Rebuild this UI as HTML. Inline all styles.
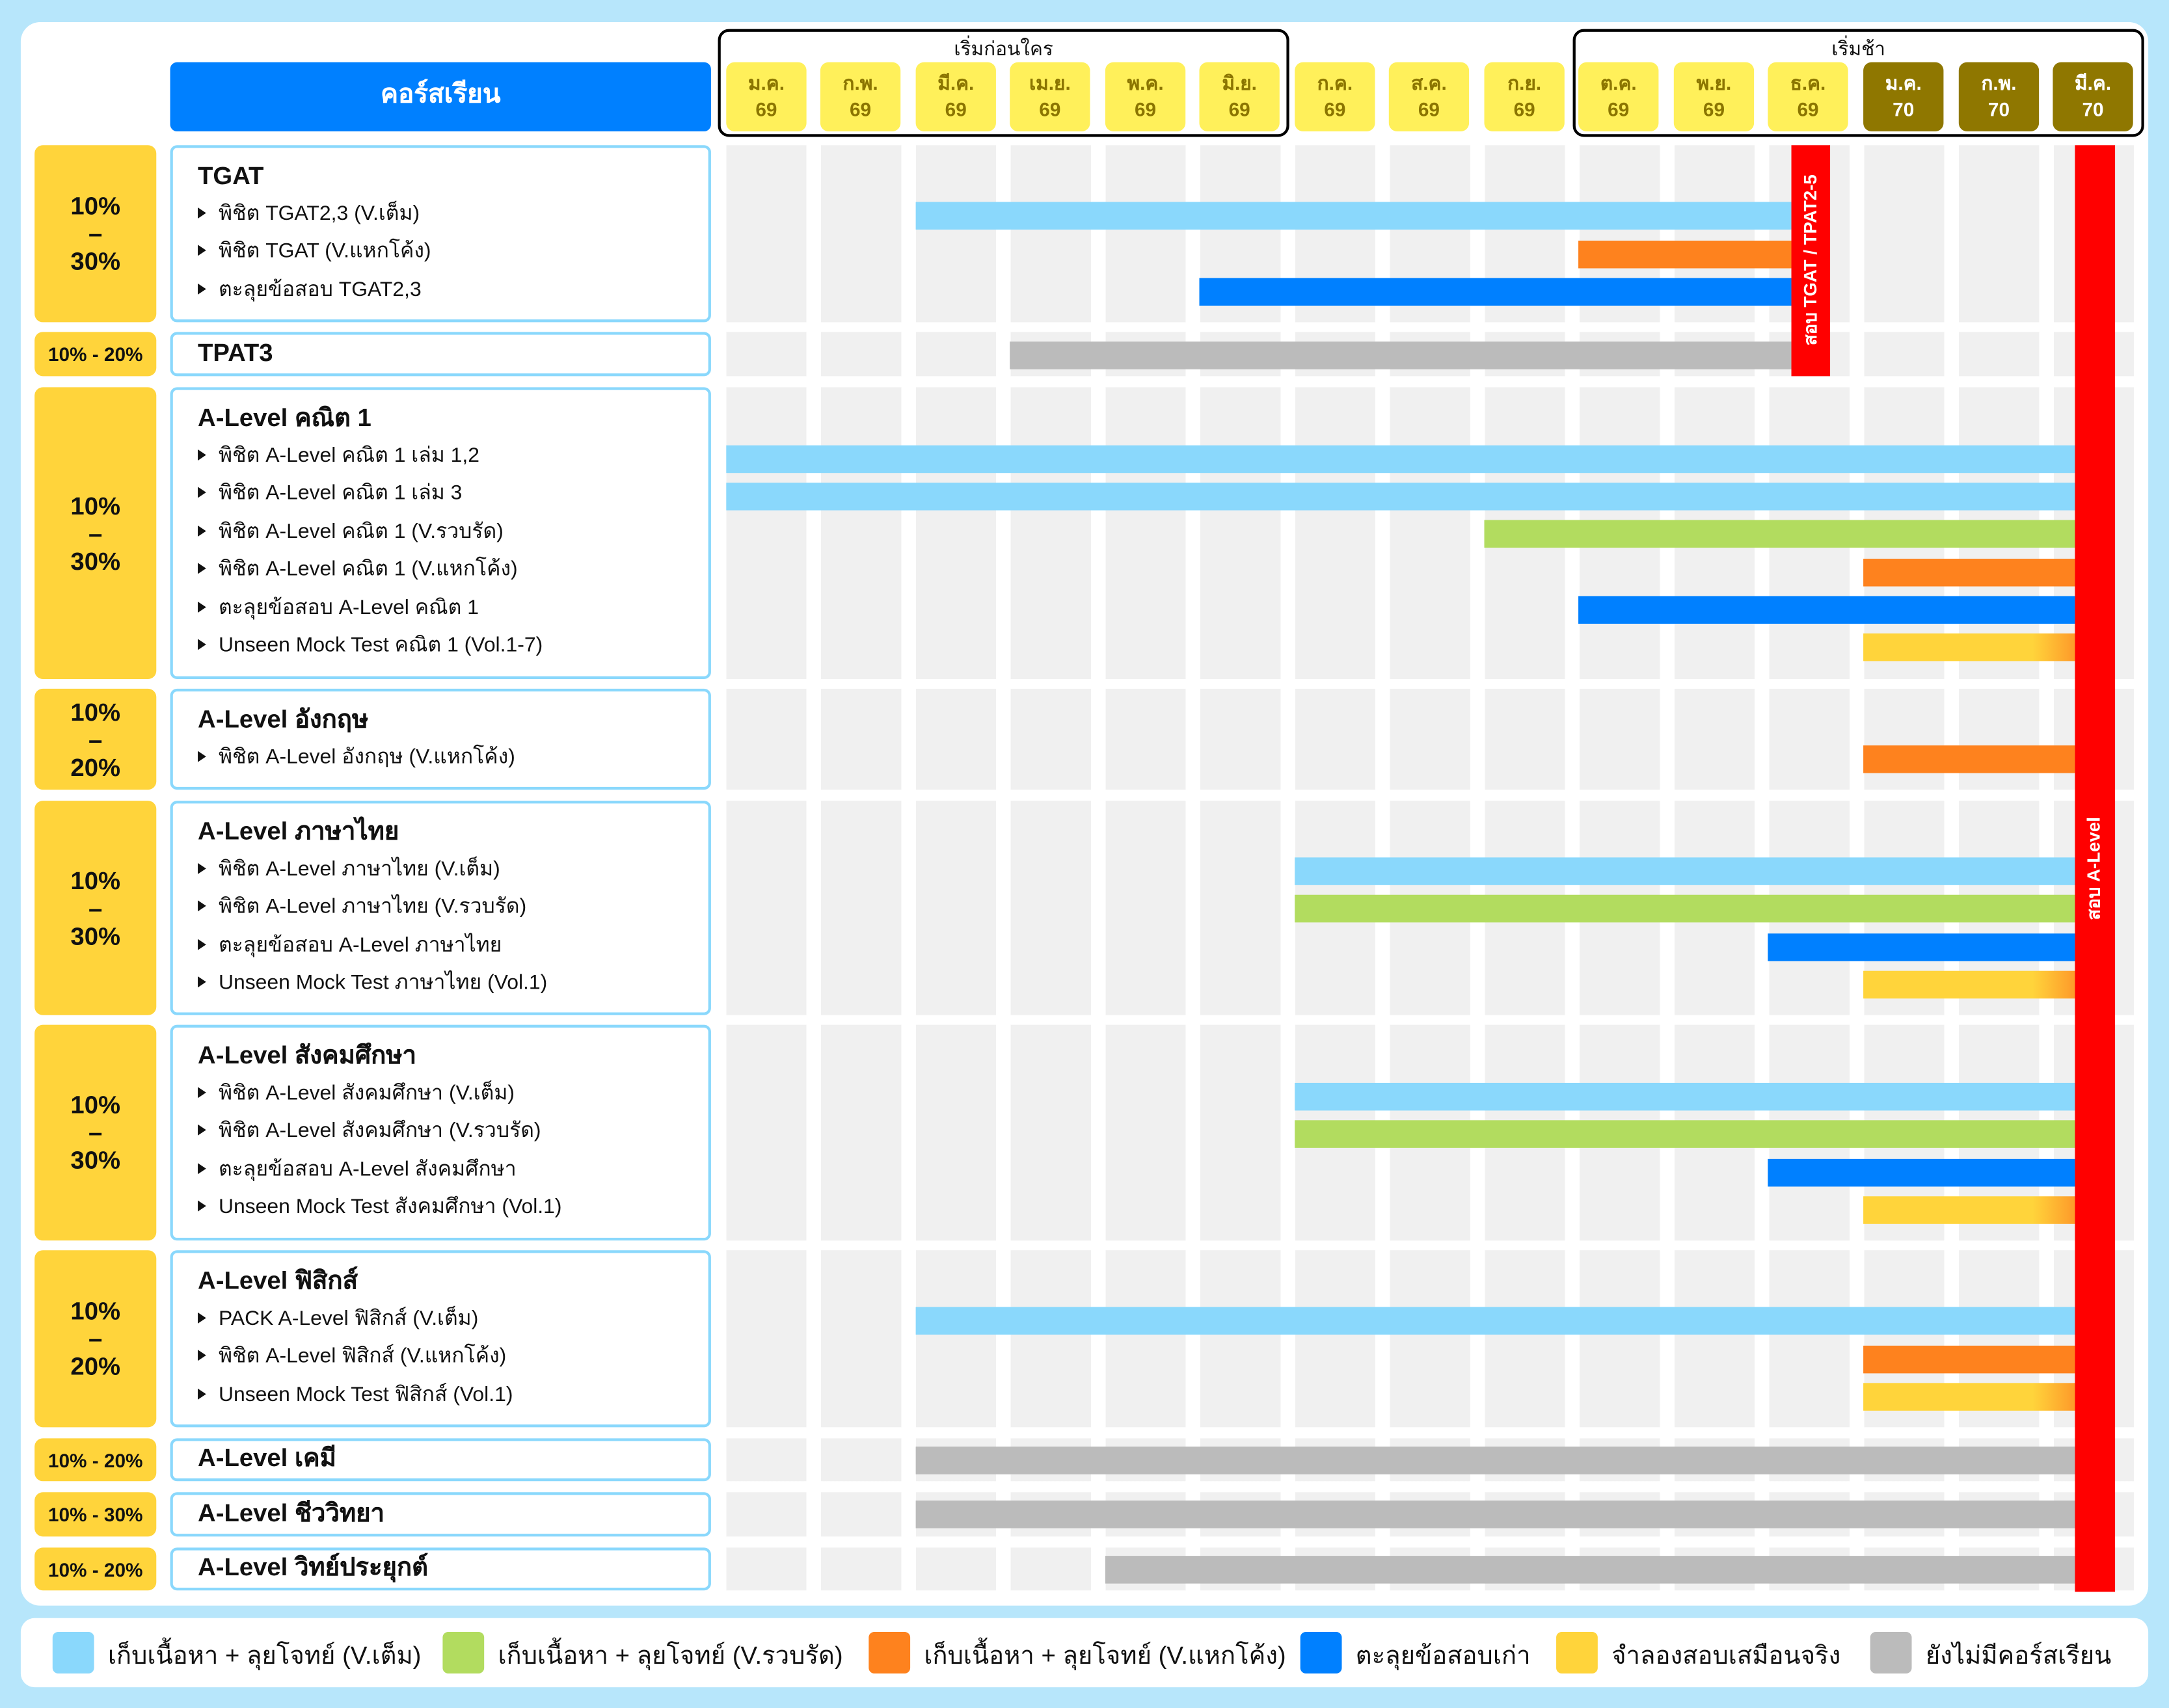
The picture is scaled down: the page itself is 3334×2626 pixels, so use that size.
<!DOCTYPE html>
<html><head><meta charset="utf-8"><style>
html,body{margin:0;padding:0;background:#b7e6fb;overflow:hidden}
#w{position:absolute;left:0;top:0;width:1568px;height:1235px;transform-origin:0 0;transform:scale(2.12628,2.12632);font-family:"Liberation Sans","Noto Sans CJK SC","WenQuanYi Zen Hei",sans-serif;color:#111}
.a{position:absolute}
.pn{background:#fff;border-radius:14px}
.hm{position:absolute;top:45px;width:58px;height:50px;border-radius:6px;background:#fff05a;color:#8b7500;font-weight:bold;font-size:14px;text-align:center;line-height:19px;padding-top:6px;box-sizing:border-box}
.hm.d{background:#8f7700;color:#fff}
.grp{position:absolute;top:21px;height:78px;border:2px solid #000;border-radius:8px;box-sizing:border-box;text-align:center;font-size:14px;line-height:24px}
.pc{position:absolute;left:25px;width:88px;background:#ffd43b;border-radius:6px;font-weight:bold;display:flex;align-items:center;justify-content:center;text-align:center}
.cb{position:absolute;left:123px;width:391px;border:2px solid #8ad8fc;border-radius:5px;box-sizing:border-box;background:#fff}
.cb .t{position:absolute;left:18px;font-weight:bold;font-size:18px;line-height:22px}
.cb .i{position:absolute;left:18px;font-size:15px;white-space:nowrap;line-height:18px}
.cb .i:before{content:"";display:inline-block;border-left:6px solid #111;border-top:4px solid transparent;border-bottom:4px solid transparent;margin-right:9px;vertical-align:1px}
.cb.s{display:flex;align-items:center}
.cb.s .t{position:static;margin-left:18px;margin-top:-3px}
.g{position:absolute;left:525px;width:1020px;background:repeating-linear-gradient(to right,#f0f0f0 0 58px,transparent 58px 68.55px)}
.b{position:absolute;height:20px}
.lb{background:#8ad8fc}.gr{background:#b2dc5f}.or{background:#fe821e}.bl{background:#0080ff}.ye{background:linear-gradient(to right,#ffd43b 80%,#fe9a2a)}.gy{background:#bbbbbb}
.lg{position:absolute;top:1180px;width:30px;height:30px;border-radius:4px}
.lt{position:absolute;top:1182px;font-size:18px;white-space:nowrap}
</style></head><body><div id="w">
<div class="a pn" style="left:15px;top:16px;width:1538px;height:1145px"></div>
<div class="a pn" style="left:15px;top:1170px;width:1538px;height:50px;border-radius:10px"></div>

<div class="a" style="left:123px;top:45px;width:391px;height:50px;background:#0080ff;border-radius:5px;color:#fff;font-weight:bold;font-size:19px;text-align:center;line-height:48px">คอร์สเรียน</div>
<div class="grp" style="left:519px;width:413px">เริ่มก่อนใคร</div>
<div class="grp" style="left:1137px;width:413px">เริ่มช้า</div>
<div class="hm" style="left:525px">ม.ค.<br>69</div>
<div class="hm" style="left:593px">ก.พ.<br>69</div>
<div class="hm" style="left:662px">มี.ค.<br>69</div>
<div class="hm" style="left:730px">เม.ย.<br>69</div>
<div class="hm" style="left:799px">พ.ค.<br>69</div>
<div class="hm" style="left:867px">มิ.ย.<br>69</div>
<div class="hm" style="left:936px">ก.ค.<br>69</div>
<div class="hm" style="left:1004px">ส.ค.<br>69</div>
<div class="hm" style="left:1073px">ก.ย.<br>69</div>
<div class="hm" style="left:1141px">ต.ค.<br>69</div>
<div class="hm" style="left:1210px">พ.ย.<br>69</div>
<div class="hm" style="left:1278px">ธ.ค.<br>69</div>
<div class="hm d" style="left:1347px">ม.ค.<br>70</div>
<div class="hm d" style="left:1416px">ก.พ.<br>70</div>
<div class="hm d" style="left:1484px">มี.ค.<br>70</div>

<div class="g" style="top:105px;height:128px"></div>
<div class="g" style="top:240px;height:32px"></div>
<div class="g" style="top:280px;height:211px"></div>
<div class="g" style="top:498px;height:73px"></div>
<div class="g" style="top:579px;height:155px"></div>
<div class="g" style="top:741px;height:156px"></div>
<div class="g" style="top:904px;height:128px"></div>
<div class="g" style="top:1040px;height:31px"></div>
<div class="g" style="top:1079px;height:32px"></div>
<div class="g" style="top:1119px;height:31px"></div>

<div class="pc" style="top:105px;height:128px;font-size:18px;line-height:20px">10%<br>–<br>30%</div>
<div class="pc" style="top:240px;height:32px;font-size:14px">10% - 20%</div>
<div class="pc" style="top:280px;height:211px;font-size:18px;line-height:20px">10%<br>–<br>30%</div>
<div class="pc" style="top:498px;height:73px;font-size:18px;line-height:20px">10%<br>–<br>20%</div>
<div class="pc" style="top:579px;height:155px;font-size:18px;line-height:20px">10%<br>–<br>30%</div>
<div class="pc" style="top:741px;height:156px;font-size:18px;line-height:20px">10%<br>–<br>30%</div>
<div class="pc" style="top:904px;height:128px;font-size:18px;line-height:20px">10%<br>–<br>20%</div>
<div class="pc" style="top:1040px;height:31px;font-size:14px">10% - 20%</div>
<div class="pc" style="top:1079px;height:32px;font-size:14px">10% - 30%</div>
<div class="pc" style="top:1119px;height:31px;font-size:14px">10% - 20%</div>

<div class="cb" style="top:105px;height:128px"><div class="t" style="top:9px">TGAT</div><div class="i" style="top:39px">พิชิต TGAT2,3 (V.เต็ม)</div><div class="i" style="top:66px">พิชิต TGAT (V.แหกโค้ง)</div><div class="i" style="top:94px">ตะลุยข้อสอบ TGAT2,3</div></div>
<div class="cb s" style="top:240px;height:32px"><div class="t">TPAT3</div></div>
<div class="cb" style="top:280px;height:211px"><div class="t" style="top:9px">A-Level คณิต 1</div><div class="i" style="top:39px">พิชิต A-Level คณิต 1 เล่ม 1,2</div><div class="i" style="top:66px">พิชิต A-Level คณิต 1 เล่ม 3</div><div class="i" style="top:94px">พิชิต A-Level คณิต 1 (V.รวบรัด)</div><div class="i" style="top:121px">พิชิต A-Level คณิต 1 (V.แหกโค้ง)</div><div class="i" style="top:149px">ตะลุยข้อสอบ A-Level คณิต 1</div><div class="i" style="top:176px">Unseen Mock Test คณิต 1 (Vol.1-7)</div></div>
<div class="cb" style="top:498px;height:73px"><div class="t" style="top:9px">A-Level อังกฤษ</div><div class="i" style="top:39px">พิชิต A-Level อังกฤษ (V.แหกโค้ง)</div></div>
<div class="cb" style="top:579px;height:155px"><div class="t" style="top:9px">A-Level ภาษาไทย</div><div class="i" style="top:39px">พิชิต A-Level ภาษาไทย (V.เต็ม)</div><div class="i" style="top:66px">พิชิต A-Level ภาษาไทย (V.รวบรัด)</div><div class="i" style="top:94px">ตะลุยข้อสอบ A-Level ภาษาไทย</div><div class="i" style="top:121px">Unseen Mock Test ภาษาไทย (Vol.1)</div></div>
<div class="cb" style="top:741px;height:156px"><div class="t" style="top:9px">A-Level สังคมศึกษา</div><div class="i" style="top:39px">พิชิต A-Level สังคมศึกษา (V.เต็ม)</div><div class="i" style="top:66px">พิชิต A-Level สังคมศึกษา (V.รวบรัด)</div><div class="i" style="top:94px">ตะลุยข้อสอบ A-Level สังคมศึกษา</div><div class="i" style="top:121px">Unseen Mock Test สังคมศึกษา (Vol.1)</div></div>
<div class="cb" style="top:904px;height:128px"><div class="t" style="top:9px">A-Level ฟิสิกส์</div><div class="i" style="top:39px">PACK A-Level ฟิสิกส์ (V.เต็ม)</div><div class="i" style="top:66px">พิชิต A-Level ฟิสิกส์ (V.แหกโค้ง)</div><div class="i" style="top:94px">Unseen Mock Test ฟิสิกส์ (Vol.1)</div></div>
<div class="cb s" style="top:1040px;height:31px"><div class="t">A-Level เคมี</div></div>
<div class="cb s" style="top:1079px;height:32px"><div class="t">A-Level ชีววิทยา</div></div>
<div class="cb s" style="top:1119px;height:31px"><div class="t">A-Level วิทย์ประยุกต์</div></div>

<div class="b lb" style="left:662px;width:633px;top:146px"></div>
<div class="b or" style="left:1141px;width:154px;top:174px"></div>
<div class="b bl" style="left:867px;width:428px;top:201px"></div>
<div class="b gy" style="left:730px;width:565px;top:247px"></div>

<div class="b lb" style="left:525px;width:975px;top:322px"></div>
<div class="b lb" style="left:525px;width:975px;top:349px"></div>
<div class="b gr" style="left:1073px;width:427px;top:376px"></div>
<div class="b or" style="left:1347px;width:153px;top:404px"></div>
<div class="b bl" style="left:1141px;width:359px;top:431px"></div>
<div class="b ye" style="left:1347px;width:153px;top:458px"></div>

<div class="b or" style="left:1347px;width:153px;top:539px"></div>

<div class="b lb" style="left:936px;width:564px;top:620px"></div>
<div class="b gr" style="left:936px;width:564px;top:647px"></div>
<div class="b bl" style="left:1278px;width:222px;top:675px"></div>
<div class="b ye" style="left:1347px;width:153px;top:702px"></div>

<div class="b lb" style="left:936px;width:564px;top:783px"></div>
<div class="b gr" style="left:936px;width:564px;top:810px"></div>
<div class="b bl" style="left:1278px;width:222px;top:838px"></div>
<div class="b ye" style="left:1347px;width:153px;top:865px"></div>

<div class="b lb" style="left:662px;width:838px;top:945px"></div>
<div class="b or" style="left:1347px;width:153px;top:973px"></div>
<div class="b ye" style="left:1347px;width:153px;top:1000px"></div>

<div class="b gy" style="left:662px;width:838px;top:1046px"></div>
<div class="b gy" style="left:662px;width:838px;top:1085px"></div>
<div class="b gy" style="left:799px;width:701px;top:1125px"></div>

<div class="a" style="left:1295px;top:105px;width:28px;height:167px;background:#ff0000"></div>
<div class="a" style="left:1309px;top:188px;width:0;height:0"><div style="position:absolute;left:-90px;top:-9px;width:180px;text-align:center;transform:rotate(-90deg);color:#fff;font-weight:bold;font-size:13px;white-space:nowrap;line-height:18px">สอบ TGAT / TPAT2-5</div></div>
<div class="a" style="left:1500px;top:105px;width:29px;height:1046px;background:#ff0000"></div>
<div class="a" style="left:1514px;top:628px;width:0;height:0"><div style="position:absolute;left:-90px;top:-9px;width:180px;text-align:center;transform:rotate(-90deg);color:#fff;font-weight:bold;font-size:13px;white-space:nowrap;line-height:18px">สอบ A-Level</div></div>

<div class="lg lb" style="left:38px"></div><div class="lt" style="left:78px">เก็บเนื้อหา + ลุยโจทย์ (V.เต็ม)</div>
<div class="lg gr" style="left:320px"></div><div class="lt" style="left:360px">เก็บเนื้อหา + ลุยโจทย์ (V.รวบรัด)</div>
<div class="lg or" style="left:628px"></div><div class="lt" style="left:668px">เก็บเนื้อหา + ลุยโจทย์ (V.แหกโค้ง)</div>
<div class="lg bl" style="left:940px"></div><div class="lt" style="left:980px">ตะลุยข้อสอบเก่า</div>
<div class="lg" style="left:1125px;background:#ffd43b"></div><div class="lt" style="left:1165px">จำลองสอบเสมือนจริง</div>
<div class="lg gy" style="left:1352px"></div><div class="lt" style="left:1392px">ยังไม่มีคอร์สเรียน</div>
</div></body></html>
